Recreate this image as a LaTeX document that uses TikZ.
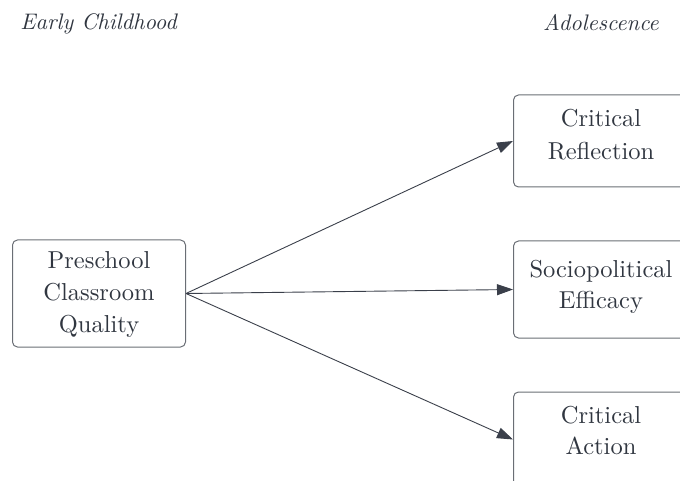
\documentclass[tikz,border=0pt]{standalone}
\usepackage{fontspec}
\setmainfont{lmroman10-regular.otf}[ItalicFont=lmroman10-italic.otf]
\usetikzlibrary{arrows.meta}
\definecolor{boxline}{HTML}{6A6E75}
\definecolor{ink}{HTML}{303640}
\definecolor{arrowink}{HTML}{3A3F4A}
\tikzset{
  stagebox/.style={draw=boxline, line width=1pt, rounded corners=5pt,
    inner sep=0pt, minimum width=173pt},
  boxtext/.style={text=ink, inner sep=0pt, anchor=base,
    font=\fontsize{24.5}{32}\selectfont},
  stagelabel/.style={text=ink, inner sep=0pt, anchor=base,
    font=\fontsize{22.5}{26}\selectfont\itshape},
  path/.style={draw=arrowink, line width=0.9pt,
    -{Triangle[length=16pt, width=11pt]}}
}
\begin{document}
\begin{tikzpicture}[x=1pt, y=-1pt]
  \useasboundingbox (0,0) rectangle (680,481);
  \clip (0,0) rectangle (680,481);

  % period headings
  \node[stagelabel] (early) at (98.5,30) {Early Childhood};
  \node[stagelabel] (adol) at (601,31) {Adolescence};

  % predictor
  \node[stagebox, minimum height=107pt] (pcq) at (99,293.5) {};
  \node[boxtext] (pcq1) at (99,268) {Preschool};
  \node[boxtext] (pcq2) at (99,300) {Classroom};
  \node[boxtext] (pcq3) at (99,332) {Quality};

  % outcomes
  \node[stagebox, minimum height=92pt] (cr) at (600,141) {};
  \node[boxtext] (cr1) at (601,127) {Critical};
  \node[boxtext] (cr2) at (601,160) {Reflection};

  \node[stagebox, minimum height=97pt] (spe) at (600,289.5) {};
  \node[boxtext] (spe1) at (601,277) {Sociopolitical};
  \node[boxtext] (spe2) at (601,308) {Efficacy};

  \node[stagebox, minimum height=95pt] (ca) at (600,439.5) {};
  \node[boxtext] (ca1) at (601,423) {Critical};
  \node[boxtext] (ca2) at (601,454) {Action};

  % paths
  \coordinate (src) at (pcq.east);
  \draw[path] (src) -- (cr.west);
  \draw[path] (src) -- (spe.west);
  \draw[path] (src) -- (ca.west);
\end{tikzpicture}
\end{document}
